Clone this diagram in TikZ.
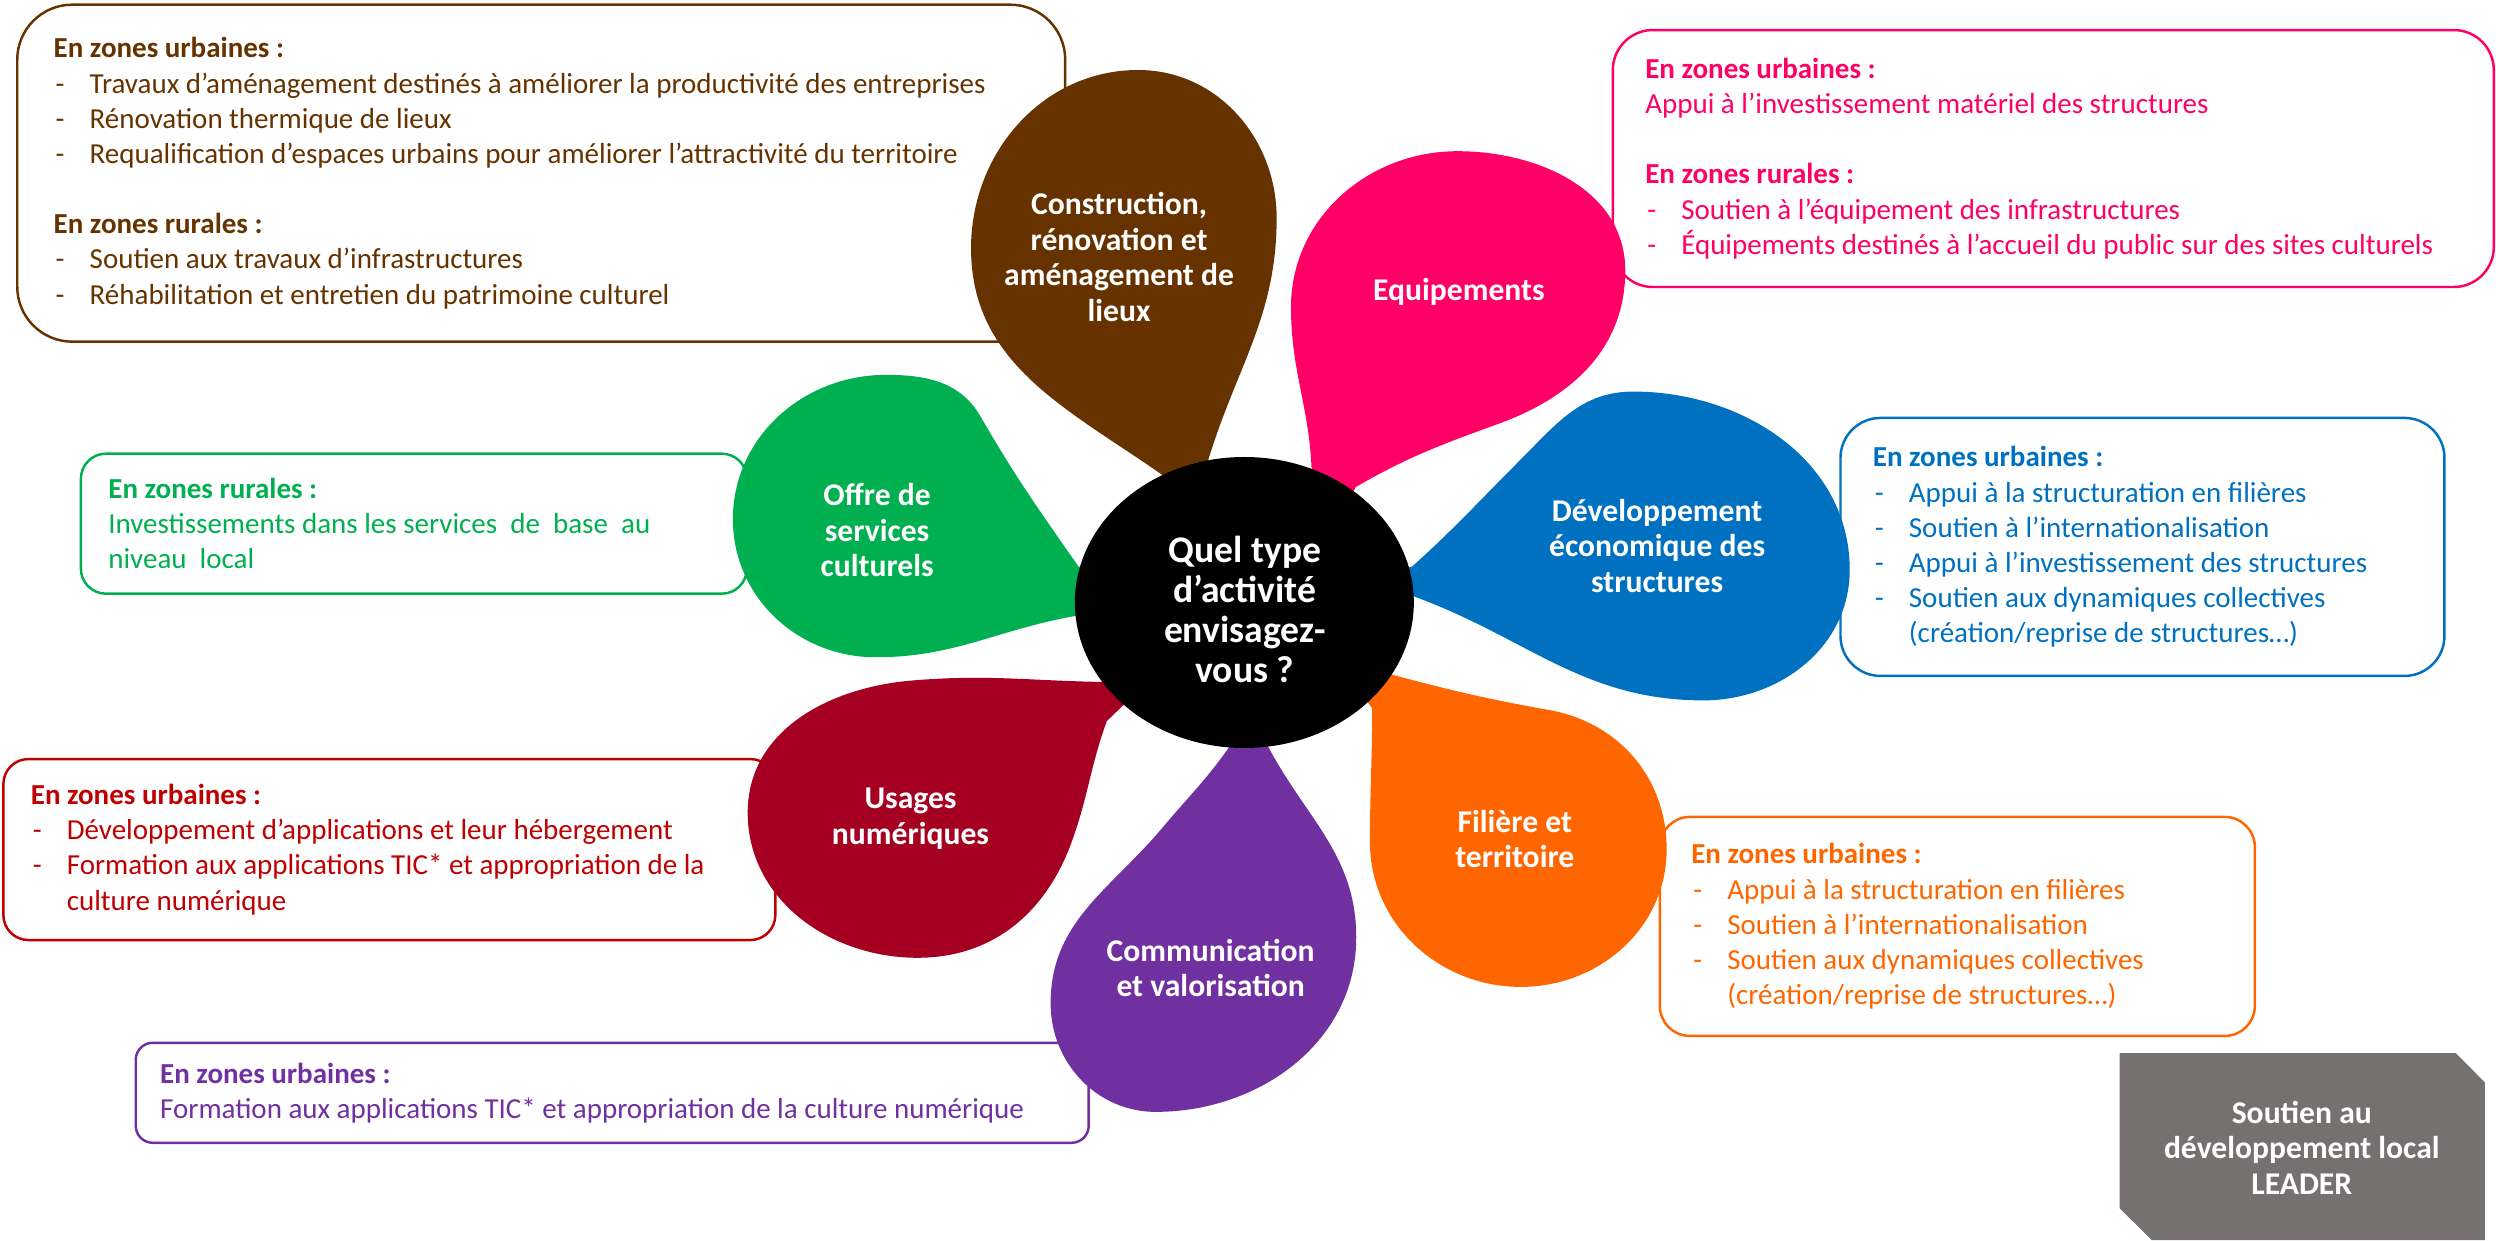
\documentclass[tikz,border=0pt]{standalone}
\usepackage{fontspec}
\setmainfont{Carlito}
\usetikzlibrary{shapes.geometric, positioning}

\definecolor{cBrun}{HTML}{663300}
\definecolor{cRose}{HTML}{FF0066}
\definecolor{cBleu}{HTML}{0070C0}
\definecolor{cOrange}{HTML}{FF6600}
\definecolor{cViolet}{HTML}{7030A0}
\definecolor{cBordeaux}{HTML}{A50021}
\definecolor{cRouge}{HTML}{C00000}
\definecolor{cVert}{HTML}{00B050}
\definecolor{cGris}{HTML}{767171}

\newcommand{\tir}{\makebox[3.6mm][l]{\hspace{0.2mm}-}}
\newcommand{\ind}{\hspace*{3.6mm}}

\begin{document}
\begin{tikzpicture}[x=0.1592mm, y=0.1592mm,
    cadre/.style={draw=#1, line width=0.7pt, inner sep=0pt},
    texte/.style={text=#1, align=left, inner sep=0pt, font=\fontsize{8.25}{10}\selectfont},
    etiquette/.style={text=white, align=center, inner sep=0pt, font=\bfseries\fontsize{9}{10.1}\selectfont}]
  \useasboundingbox (0,0) rectangle (1568,779);

  % cadres
  \node[cadre=cBrun, minimum width=104.8mm, minimum height=33.7mm, rounded corners=5.5mm] (cadreBrun) at (340,670.2) {};
  \node[texte=cBrun, right=3.7mm of cadreBrun.west] (txtBrun) {\textbf{En zones urbaines :}\\
    \tir Travaux d’aménagement destinés à améliorer la productivité des entreprises\\
    \tir Rénovation thermique de lieux\\
    \tir Requalification d’espaces urbains pour améliorer l’attractivité du territoire\\[10pt]
    \textbf{En zones rurales :}\\
    \tir Soutien aux travaux d’infrastructures\\
    \tir Réhabilitation et entretien du patrimoine culturel};

  \node[cadre=cRose, minimum width=88.1mm, minimum height=25.7mm, rounded corners=4mm] (cadreRose) at (1289.9,679.4) {};
  \node[texte=cRose, right=3.3mm of cadreRose.west] (txtRose) {\textbf{En zones urbaines :}\\
    Appui à l’investissement matériel des structures\\[10pt]
    \textbf{En zones rurales :}\\
    \tir Soutien à l’équipement des infrastructures\\
    \tir Équipements destinés à l’accueil du public sur des sites culturels};

  \node[cadre=cBleu, minimum width=60.4mm, minimum height=25.8mm, rounded corners=4mm] (cadreBleu) at (1345.9,435.4) {};
  \node[texte=cBleu, right=3.3mm of cadreBleu.west] (txtBleu) {\textbf{En zones urbaines :}\\
    \tir Appui à la structuration en filières\\
    \tir Soutien à l’internationalisation\\
    \tir Appui à l’investissement des structures\\
    \tir Soutien aux dynamiques collectives\\
    \ind(création/reprise de structures…)};

  \node[cadre=cOrange, minimum width=59.5mm, minimum height=21.9mm, rounded corners=3mm] (cadreOrange) at (1229.6,197) {};
  \node[texte=cOrange, right=3.2mm of cadreOrange.west] (txtOrange) {\textbf{En zones urbaines :}\\
    \tir Appui à la structuration en filières\\
    \tir Soutien à l’internationalisation\\
    \tir Soutien aux dynamiques collectives\\
    \ind(création/reprise de structures…)};

  \node[cadre=cVert, minimum width=66.6mm, minimum height=14mm, rounded corners=2.5mm] (cadreVert) at (260,450) {};
  \node[texte=cVert, right=2.8mm of cadreVert.west] (txtVert) {\textbf{En zones rurales :}\\
    Investissements dans les services\ \ de\ \ base\ \ au\\
    niveau\ \ local};

  \node[cadre=cRouge, minimum width=77.2mm, minimum height=18.1mm, rounded corners=2.5mm] (cadreRouge) at (244.6,245.3) {};
  \node[texte=cRouge, right=2.8mm of cadreRouge.west] (txtRouge) {\textbf{En zones urbaines :}\\
    \tir Développement d’applications et leur hébergement\\
    \tir Formation aux applications TIC* et appropriation de la\\
    \ind culture numérique};

  \node[cadre=cViolet, minimum width=95.3mm, minimum height=10mm, rounded corners=1.7mm] (cadreViolet) at (384.6,92.5) {};
  \node[texte=cViolet, right=2.5mm of cadreViolet.west] (txtViolet) {\textbf{En zones urbaines :}\\
    Formation aux applications TIC* et appropriation de la culture numérique};

  % petales
  \fill[cBrun] (730.5,480.4) to[out=145, in=-90] (610,623) to[out=90, in=180] (715,735)
    to[out=0, in=90] (802,642) to[out=-90, in=73] (759,490) -- (770,430) -- cycle;
  \fill[cRose] (824,483) to[out=92, in=-90] (811,586) to[out=90, in=180] (915.6,684)
    to[out=0, in=90] (1021,609) to[out=-90, in=20] (942,513) to[out=-160, in=30] (851.6,473) -- (830,430) -- cycle;
  \fill[cBleu] (887,423) to[out=42, in=-135] (955,490) to[out=45, in=180] (1026,533)
    to[out=0, in=90] (1162,421) to[out=-90, in=0] (1070,339) to[out=180, in=-20] (888,404.4) -- (840,411) -- cycle;
  \fill[cOrange] (862.7,358.3) to[out=-15, in=170] (972.9,333) to[out=-10, in=90] (1047,245.5)
    to[out=-90, in=0] (955.3,159) to[out=180, in=-90] (860.6,250) to[out=90, in=-90] (862,334) -- (830,379) -- cycle;
  \fill[cViolet] (796.6,310) to[out=-62, in=90] (852,190) to[out=-90, in=0] (726,80.5)
    to[out=180, in=-90] (660,148.7) to[out=90, in=-130] (730.5,259.3) to[out=50, in=-125] (772.4,310) -- (785,359) -- cycle;
  \fill[cBordeaux] (704,350.5) to[out=180, in=5] (572,351.4) to[out=185, in=90] (469.7,268.5)
    to[out=-90, in=180] (576.3,177.3) to[out=0, in=-110] (673.2,250) to[out=70, in=-110] (695.3,326) -- (740,369) -- cycle;
  \fill[cVert] (677.6,423) to[out=125, in=-60] (616,517.3) to[out=120, in=0] (556.5,543.5)
    to[out=180, in=90] (460.4,452.7) to[out=-90, in=180] (550,366.1) to[out=0, in=190] (675.4,392) -- (730,409) -- cycle;

  \node[ellipse, fill=black, minimum width=33.9mm, minimum height=29.1mm, inner sep=0pt] (centre) at (781.7,400.5) {};
  \node[text=white, align=center, inner sep=0pt, font=\bfseries\fontsize{10.7}{11.4}\selectfont] (question) at (782,396)
    {Quel type\\d’activité\\envisagez-\\vous ?};

  \node[etiquette] (construction) at (703,617.5) {Construction,\\rénovation et\\aménagement de\\lieux};
  \node[etiquette] (equipements) at (916.5,595.6) {Equipements};
  \node[etiquette] (developpement) at (1041,436) {Développement\\économique des\\structures};
  \node[etiquette] (filiere) at (951.6,252) {Filière et\\territoire};
  \node[etiquette] (communication) at (760.5,171) {Communication\\et valorisation};
  \node[etiquette] (usages) at (572,264.5) {Usages\\numériques};
  \node[etiquette] (offre) at (551,446) {Offre de\\services\\culturels};

  % LEADER
  \fill[cGris] (1331.5,117.4) -- (1542.7,117.4) -- (1561,99) -- (1561,0) -- (1351.7,0) -- (1331.5,20) -- cycle;
  \node[etiquette] (leader) at (1446,58) {Soutien au\\développement local\\LEADER};
\end{tikzpicture}
\end{document}
